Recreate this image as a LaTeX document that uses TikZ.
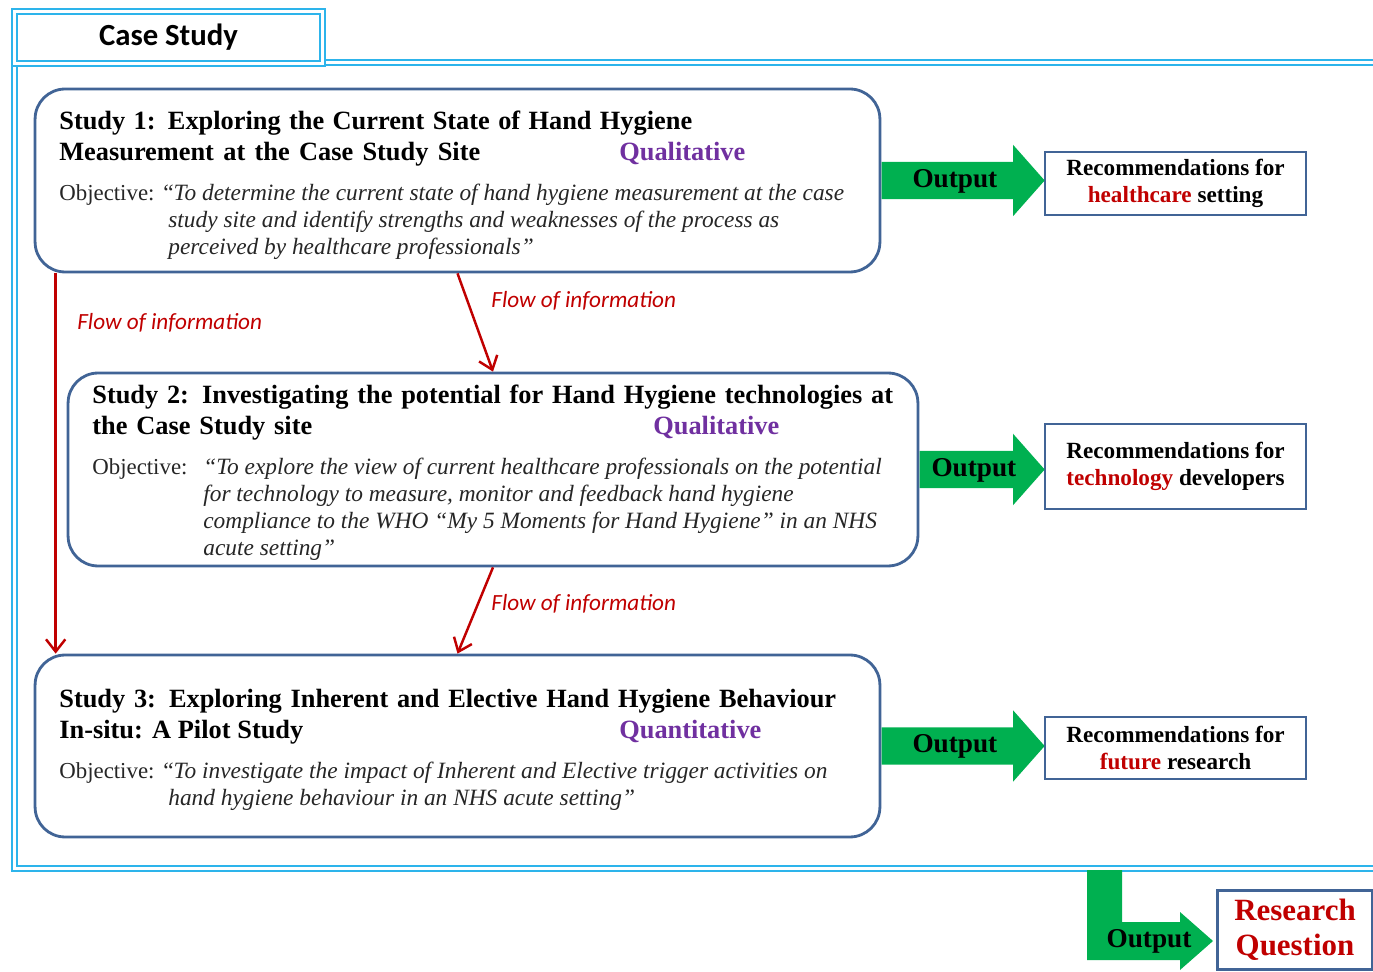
\documentclass[tikz,border=0pt]{standalone}
\usepackage{fontspec}
\setmainfont{Liberation Serif}
\newfontfamily\calibri{Carlito}
\usetikzlibrary{shapes.arrows,arrows.meta}

\definecolor{frameblue}{RGB}{45,180,235}
\definecolor{boxblue}{RGB}{65,100,150}
\definecolor{flowred}{RGB}{192,0,0}
\definecolor{methpurple}{RGB}{112,48,160}
\definecolor{outgreen}{RGB}{0,176,80}

\begin{document}
\begin{tikzpicture}[x=0.02cm,y=-0.02cm,
  frame/.style={draw=frameblue,line width=1.1pt,double,double distance=1.6pt},
  study/.style={draw=boxblue,line width=1.6pt,rounded corners=0.6cm,fill=white},
  recbox/.style={draw=boxblue,line width=1.6pt,fill=white,align=center,
    minimum width=5.22cm,font=\fontsize{13.2}{15.4}\selectfont\bfseries},
  title/.style={anchor=base west,inner sep=0pt,font=\fontsize{15}{18}\selectfont\bfseries},
  method/.style={title,text=methpurple},
  objlabel/.style={anchor=base west,inner sep=0pt,text=black!85,font=\fontsize{13}{15}\selectfont},
  objtext/.style={objlabel,font=\fontsize{13.3}{15}\selectfont\itshape},
  flow/.style={draw=flowred,line width=1.4pt,-{Straight Barb[length=7pt,width=11pt]}},
  flowlabel/.style={anchor=base west,inner sep=0pt,text=flowred,
    font=\calibri\itshape\fontsize{13.2}{16}\selectfont},
  outarrow/.style={single arrow,fill=outgreen,anchor=tail,
    font=\fontsize{15.5}{18}\selectfont\bfseries,text height=11pt,text depth=3.5pt,
    inner ysep=3.2pt,inner xsep=2pt,single arrow head extend=9.7pt,single arrow tip angle=97}]
  \useasboundingbox (0,0) rectangle (1373,972);

  % case study frame
  \draw[frame] (1373,62.3) -- (14.3,62.3) -- (14.3,868.5) -- (1373,868.5);
  \node[frame,fill=white,minimum width=6.17cm,minimum height=1.04cm,
    font=\calibri\bfseries\fontsize{17.5}{20}\selectfont] (cs) at (168.5,37.5) {Case Study};

  % studies
  \node[study,minimum width=16.9cm,minimum height=3.66cm] (s1) at (457.5,180.5) {};
  \node[study,minimum width=17cm,minimum height=3.86cm] (s2) at (493,469.5) {};
  \node[study,minimum width=16.9cm,minimum height=3.64cm] (s3) at (457.5,746) {};

  \node[title] (t1a) at (59,130) {\makebox[12.66cm][s]{Study 1: Exploring the Current State of Hand Hygiene}};
  \node[title] (t1b) at (59,161) {\makebox[8.42cm][s]{Measurement at the Case Study Site}};
  \node[method] (m1) at (619,161) {Qualitative};
  \node[objlabel] (ob1) at (59,201) {Objective:};
  \node[objtext] (o1a) at (163,201) {\upshape``\itshape To determine the current state of hand hygiene measurement at the case};
  \node[objtext] (o1b) at (168,228) {study site and identify strengths and weaknesses of the process as};
  \node[objtext] (o1c) at (168,255) {perceived by healthcare professionals''};

  \node[title] (t2a) at (92,404) {\makebox[16.02cm][s]{Study 2: Investigating the potential for Hand Hygiene technologies at}};
  \node[title] (t2b) at (92,435) {\makebox[4.4cm][s]{the Case Study site}};
  \node[method] (m2) at (653,435) {Qualitative};
  \node[objlabel] (ob2) at (92,475) {Objective:};
  \node[objtext] (o2a) at (203,475) {``To explore the view of current healthcare professionals on the potential};
  \node[objtext] (o2b) at (203,502) {for technology to measure, monitor and feedback hand hygiene};
  \node[objtext] (o2c) at (203,529) {compliance to the WHO ``My 5 Moments for Hand Hygiene'' in an NHS};
  \node[objtext] (o2d) at (203,556) {acute setting''};

  \node[title] (t3a) at (59,708) {\makebox[15.54cm][s]{Study 3: Exploring Inherent and Elective Hand Hygiene Behaviour}};
  \node[title] (t3b) at (59,739) {\makebox[4.88cm][s]{In-situ: A Pilot Study}};
  \node[method] (m3) at (619,739) {Quantitative};
  \node[objlabel] (ob3) at (59,779) {Objective:};
  \node[objtext] (o3a) at (163,779) {\upshape``\itshape To investigate the impact of Inherent and Elective trigger activities on};
  \node[objtext] (o3b) at (168,806) {hand hygiene behaviour in an NHS acute setting''};

  % flow of information
  \draw[flow] ([xshift=0.44cm]s1.south west) -- ([xshift=0.44cm]s3.north west);
  \draw[flow] (s1.south) -- (s2.north);
  \draw[flow] (s2.south) -- (s3.north);
  \node[flowlabel] (f1) at (77,330) {Flow of information};
  \node[flowlabel] (f2) at (491,308) {Flow of information};
  \node[flowlabel] (f3) at (491,611) {Flow of information};

  % outputs
  \node[recbox,minimum height=1.26cm] (r1) at (1175.5,183.5) {Recommendations for\\\textcolor{flowred}{healthcare} setting};
  \node[recbox,minimum height=1.7cm] (r2) at (1175.5,466.5) {Recommendations for\\\textcolor{flowred}{technology} developers};
  \node[recbox,minimum height=1.24cm] (r3) at (1175.5,748) {Recommendations for\\\textcolor{flowred}{future} research};
  \node[outarrow,minimum height=3.26cm] (a1) at (s1.east) {Output};
  \node[outarrow,minimum height=2.5cm] (a2) at (s2.east) {Output};
  \node[outarrow,minimum height=3.26cm] (a3) at (s3.east) {Output};

  \fill[outgreen] (1087,870) -- (1122,870) -- (1122,922) -- (1180,922) -- (1180,912)
    -- (1213,941) -- (1180,970) -- (1180,960) -- (1087,960) -- cycle;
  \node[font=\fontsize{15.5}{18}\selectfont\bfseries] (a4) at (1149,941) {Output};
  \node[recbox,minimum width=3.1cm,minimum height=1.58cm,text=flowred,
    font=\fontsize{17.6}{19.8}\selectfont\bfseries] (rq) at (1295,930) {Research\\Question};
\end{tikzpicture}
\end{document}
